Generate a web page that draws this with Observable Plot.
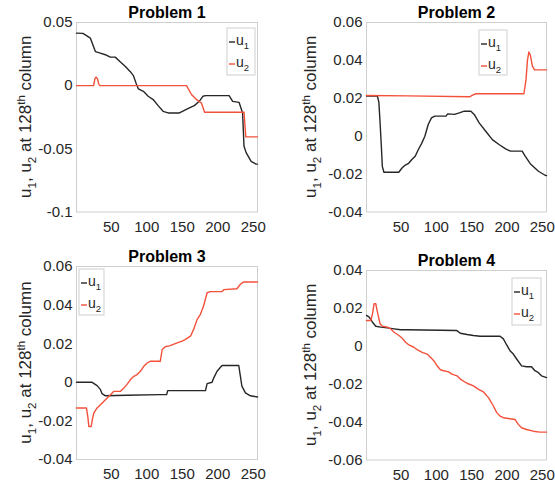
<!DOCTYPE html>
<html><head><meta charset="utf-8">
<script src="https://cdn.jsdelivr.net/npm/d3@7"></script>
<script src="https://cdn.jsdelivr.net/npm/@observablehq/plot@0.6"></script>
<style>
body{margin:0;background:#fff;}
#root{position:relative;width:555px;height:484px;overflow:hidden;background:#fff;}
.panel{position:absolute;}
</style></head><body><div id="root"></div>
<script>
// ---------- data ----------
const titles = ["Problem 1", "Problem 2", "Problem 3", "Problem 4"];
const seriesNames = ["u1", "u2"];
const xTicks = [50, 100, 150, 200, 250];
const p1_yticks = [-0.1, -0.05, 0, 0.05];
const p2_yticks = [-0.04, -0.02, 0, 0.02, 0.04, 0.06];
const p3_yticks = [-0.04, -0.02, 0, 0.02, 0.04, 0.06];
const p4_yticks = [-0.06, -0.04, -0.02, 0, 0.02, 0.04];

const p1_u1_x = [1, 10, 14, 20.6, 27.6, 34.6, 41.6, 48.6, 55.5, 62.5, 69.5, 76.5, 81.2, 84.9, 88.2, 95.2, 102, 109, 116, 123, 130, 146, 153, 160, 167, 174, 179, 183, 216, 221, 230, 235, 237, 240, 247, 254, 256];
const p1_u1 = [0.0416, 0.0414, 0.040, 0.0376, 0.027, 0.0258, 0.0245, 0.0226, 0.0226, 0.019, 0.0153, 0.0113, 0.0079, 0.002, -0.0026, -0.0045, -0.0084, -0.011, -0.0158, -0.0203, -0.0216, -0.0216, -0.0195, -0.0176, -0.0158, -0.0124, -0.0084, -0.0079, -0.0079, -0.0124, -0.0132, -0.0216, -0.048, -0.053, -0.06, -0.0621, -0.0621];
const p1_u2_x = [1, 25, 27, 28.5, 30.5, 32.5, 34, 156, 163, 170, 177, 181.5, 237, 239.5, 256];
const p1_u2 = [0, 0, 0.0055, 0.0068, 0.0055, 0.001, 0, 0, -0.007, -0.011, -0.0137, -0.021, -0.021, -0.0405, -0.0405];

const p2_u1_x = [1, 16.4, 18.5, 20.1, 22, 23.4, 25.7, 46.7, 51.3, 56, 60.7, 65.3, 70, 74.5, 79, 83.7, 88.4, 93, 97.7, 113.6, 116, 125.5, 132.5, 139.5, 148.9, 153.6, 160.6, 169.9, 179.3, 188.7, 198, 205, 221.5, 226, 233, 244.6, 254, 256];
const p2_u1 = [0.0212, 0.0212, 0.018, 0.008, -0.005, -0.0159, -0.019, -0.019, -0.0168, -0.0152, -0.0143, -0.0123, -0.0106, -0.007, -0.0039, 0, 0.0062, 0.0097, 0.0106, 0.0106, 0.0118, 0.0115, 0.0123, 0.0132, 0.0132, 0.0115, 0.007, 0.0026, -0.0018, -0.0044, -0.0067, -0.0079, -0.0079, -0.0106, -0.0145, -0.0185, -0.0206, -0.0208];
const p2_u2_x = [1, 60, 147, 152, 156, 224, 227, 229, 231, 233, 236, 239, 256];
const p2_u2 = [0.0215, 0.0213, 0.0208, 0.0218, 0.0224, 0.0224, 0.03, 0.04, 0.0444, 0.043, 0.037, 0.035, 0.035];

const p3_u1_x = [1, 23, 30, 34.8, 37, 41.8, 72, 119, 128, 129.5, 182.7, 185, 192, 194.4, 199, 206, 229.6, 234, 239, 246, 256];
const p3_u1 = [0, 0, -0.0017, -0.0038, -0.0059, -0.007, -0.0067, -0.0064, -0.0064, -0.0043, -0.0043, -0.0007, 0, 0.0023, 0.0057, 0.0087, 0.0087, -0.002, -0.0055, -0.007, -0.0076];
const p3_u2_x = [1, 15, 17, 18.4, 21.7, 23.5, 25.4, 30, 34.8, 41.8, 48.9, 53.6, 63, 67.7, 72, 77, 81.8, 86.4, 91, 95.8, 100.5, 105, 119, 121.7, 126, 133, 142.8, 149.8, 154.5, 161.6, 166, 171, 175.6, 180, 185, 189.7, 206, 208.5, 227, 232, 236.7, 256];
const p3_u2 = [-0.0133, -0.0133, -0.018, -0.0229, -0.0229, -0.019, -0.016, -0.0133, -0.0116, -0.009, -0.0064, -0.0047, -0.0047, -0.003, -0.0012, 0.0014, 0.0031, 0.004, 0.0057, 0.0083, 0.01, 0.0109, 0.0109, 0.017, 0.0184, 0.019, 0.0204, 0.0213, 0.0222, 0.0239, 0.0274, 0.0326, 0.0352, 0.0395, 0.0464, 0.047, 0.047, 0.048, 0.0485, 0.0508, 0.052, 0.052];

const p4_u1_x = [1, 4.8, 9.5, 14.1, 21.2, 30.6, 40, 49.4, 58.7, 129, 133.9, 143.3, 152.6, 162, 190.2, 194.9, 199.6, 204.3, 209, 213.7, 220.7, 227.8, 234.8, 239.5, 244.2, 248.9, 256];
const p4_u1 = [0.0163, 0.0154, 0.0127, 0.0106, 0.0101, 0.0097, 0.0092, 0.0087, 0.0087, 0.0083, 0.0069, 0.0062, 0.0057, 0.0053, 0.0053, 0.0039, 0.0007, -0.0023, -0.0041, -0.0067, -0.0103, -0.0108, -0.0108, -0.0129, -0.0138, -0.0156, -0.0165];
const p4_u2_x = [1, 7.1, 9.5, 11.8, 14.1, 16.5, 20.2, 23.5, 30.6, 35.3, 40, 47, 51.7, 56.4, 61.1, 68.1, 72.8, 79.9, 86.9, 91.6, 96.3, 101, 105.7, 110.4, 117.4, 122.1, 129.2, 133.9, 143.3, 152.6, 159.7, 166.7, 173.8, 180.8, 185.5, 190.2, 194.9, 204.3, 211.3, 216, 220.7, 227.8, 237.2, 246.5, 256];
const p4_u2 = [0.0136, 0.0136, 0.0172, 0.0225, 0.0225, 0.018, 0.0119, 0.0106, 0.0101, 0.0092, 0.0074, 0.0057, 0.0042, 0.0021, 0.0007, -0.0005, -0.0018, -0.0032, -0.0041, -0.0058, -0.0076, -0.0103, -0.0124, -0.0129, -0.0135, -0.0147, -0.0156, -0.0173, -0.0195, -0.0209, -0.0227, -0.0241, -0.0271, -0.0315, -0.035, -0.0368, -0.0377, -0.0382, -0.0386, -0.0412, -0.043, -0.0439, -0.0448, -0.0453, -0.0453];

// ---------- styling / layout ----------
const FONT = "'Liberation Sans', Arial, Helvetica, sans-serif";
const COL_U1 = "#262626";
const COL_U2 = "#f4513b";
const AXIS_COL = "#cfcfcf";
const TEXT_COL = "#262626";

const panels = [
  {title: titles[0], u1x: p1_u1_x, u1: p1_u1, u2x: p1_u2_x, u2: p1_u2, yDomain: [-0.1, 0.05], yTicks: p1_yticks,
   left: 0, top: 0, width: 277, height: 242, m: {l: 76, r: 20, t: 22, b: 30.5}, labX: 31, legend: {x: 227, y: 28, w: 28, h: 47}},
  {title: titles[1], u1x: p2_u1_x, u1: p2_u1, u2x: p2_u2_x, u2: p2_u2, yDomain: [-0.04, 0.06], yTicks: p2_yticks,
   left: 290, top: 0, width: 265, height: 242, m: {l: 76, r: 9, t: 22, b: 30.5}, labX: 26, legend: {x: 189, y: 30, w: 28, h: 45}},
  {title: titles[2], u1x: p3_u1_x, u1: p3_u1, u2x: p3_u2_x, u2: p3_u2, yDomain: [-0.04, 0.06], yTicks: p3_yticks,
   left: 0, top: 242, width: 277, height: 242, m: {l: 76, r: 20, t: 24, b: 25}, labX: 31, legend: {x: 79, y: 27, w: 25, h: 46}},
  {title: titles[3], u1x: p4_u1_x, u1: p4_u1, u2x: p4_u2_x, u2: p4_u2, yDomain: [-0.06, 0.04], yTicks: p4_yticks,
   left: 290, top: 242, width: 265, height: 242, m: {l: 76, r: 9, t: 28, b: 24.5}, labX: 26, legend: {x: 222, y: 36, w: 29, h: 47}}
];

const fmt = d => String(d);
const root = document.getElementById("root");

panels.forEach(cfg => {
  const d1 = cfg.u1x.map((x, i) => ({x, y: cfg.u1[i]}));
  const d2 = cfg.u2x.map((x, i) => ({x, y: cfg.u2[i]}));
  const svg = Plot.plot({
    width: cfg.width, height: cfg.height,
    marginLeft: cfg.m.l, marginRight: cfg.m.r, marginTop: cfg.m.t, marginBottom: cfg.m.b,
    style: {fontFamily: FONT, fontSize: "15px", color: TEXT_COL, background: "white", overflow: "visible"},
    x: {domain: [1, 256]},
    y: {domain: cfg.yDomain},
    marks: [
      Plot.frame({stroke: AXIS_COL}),
      Plot.axisX(xTicks, {anchor: "bottom", tickSize: 0, tickPadding: 9, tickFormat: fmt, label: null, fontSize: 15, fill: TEXT_COL}),
      Plot.axisY(cfg.yTicks, {anchor: "left", tickSize: 0, tickPadding: 4, tickFormat: fmt, label: null, fontSize: 15, fill: TEXT_COL}),
      Plot.line(d1, {x: "x", y: "y", stroke: COL_U1, strokeWidth: 1.4}),
      Plot.line(d2, {x: "x", y: "y", stroke: COL_U2, strokeWidth: 1.4}),
      Plot.text([cfg.title], {frameAnchor: "top", dy: -5, lineAnchor: "bottom", fontWeight: "bold", fontSize: 16, fill: "#000", fontFamily: FONT})
    ]
  });
  const s = d3.select(svg);
  // y label
  const cy = cfg.m.t + (cfg.height - cfg.m.t - cfg.m.b) / 2;
  const t = s.append("text")
    .attr("transform", `translate(${cfg.labX},${cy}) rotate(-90)`)
    .attr("text-anchor", "middle").attr("font-size", 17).attr("fill", TEXT_COL)
    .attr("font-family", FONT);
  t.append("tspan").text("u");
  t.append("tspan").attr("font-size", 11.5).attr("dy", 4.5).text("1");
  t.append("tspan").attr("dy", -4.5).text(", u");
  t.append("tspan").attr("font-size", 11.5).attr("dy", 4.5).text("2");
  t.append("tspan").attr("dy", -4.5).text(" at 128");
  t.append("tspan").attr("font-size", 11.5).attr("dy", -6.5).text("th");
  t.append("tspan").attr("dy", 6.5).text(" column");
  // legend
  const L = cfg.legend;
  const g = s.append("g").attr("font-family", FONT).attr("font-size", 14).attr("fill", TEXT_COL)
    .attr("text-anchor", "start");
  g.append("rect").attr("x", L.x).attr("y", L.y).attr("width", L.w).attr("height", L.h)
    .attr("fill", "white").attr("stroke", AXIS_COL);
  [COL_U1, COL_U2].forEach((c, i) => {
    const yy = L.y + 14 + i * 22;
    g.append("line").attr("x1", L.x + 2).attr("x2", L.x + 8).attr("y1", yy).attr("y2", yy)
      .attr("stroke", c).attr("stroke-width", 1.4);
    const tt = g.append("text").attr("x", L.x + 9).attr("y", yy + 3).attr("text-anchor", "start");
    tt.append("tspan").text(seriesNames[i][0]);
    tt.append("tspan").attr("font-size", 9.5).attr("dy", 4).text(seriesNames[i].slice(1));
  });
  const div = document.createElement("div");
  div.className = "panel";
  div.style.left = cfg.left + "px";
  div.style.top = cfg.top + "px";
  div.appendChild(svg);
  root.appendChild(div);
});
</script></body></html>
